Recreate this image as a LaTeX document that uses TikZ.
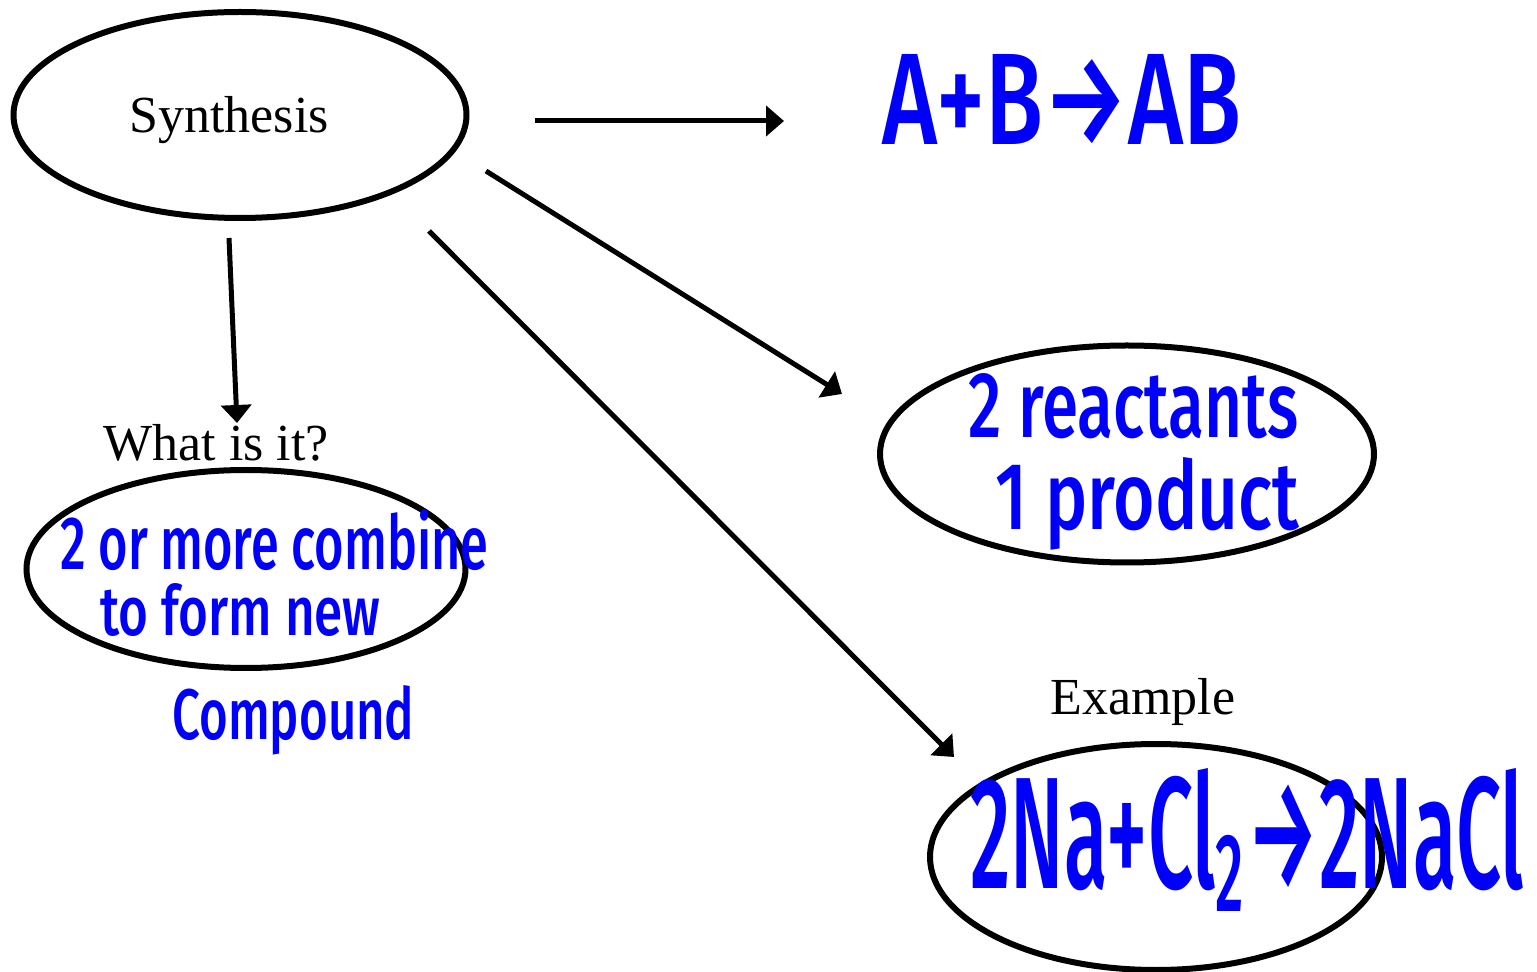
\documentclass[tikz,border=0pt]{standalone}
\usepackage{fontspec}
\setmainfont{Liberation Serif}
\newfontfamily\handfont{Fira Sans}[UprightFont={* Medium}]
\usetikzlibrary{shapes.geometric,arrows.meta}
% handwritten-style note, scaled to a given width and height
\newcommand{\hw}[3]{\resizebox{#1}{#2}{\handfont #3}}
\definecolor{ink}{RGB}{0,0,250}
\tikzset{
  bubble/.style={draw=black, line width=3pt, ellipse, inner sep=0pt},
  link/.style={draw=black, line width=2.5pt, -{Triangle[length=9pt,width=15pt]}},
  label/.style={font=\fontsize{26}{30}\selectfont, inner sep=0pt, anchor=base},
  hand/.style={text=ink, inner sep=0pt, anchor=base west}
}
\begin{document}
\begin{tikzpicture}[x=0.5pt, y=-0.5pt]
\useasboundingbox (0,0) rectangle (1537,972);

% ellipses
\node[bubble, minimum width=453pt/2, minimum height=206pt/2] (syn) at (240,115) {};
\node[bubble, minimum width=439pt/2, minimum height=198pt/2] (what) at (246,569) {};
\node[bubble, minimum width=494pt/2, minimum height=217pt/2] (react) at (1127,454) {};
\node[bubble, minimum width=452pt/2, minimum height=226pt/2] (ex) at (1156,857) {};

% printed labels
\node[label] (tsyn) at (229,133) {Synthesis};
\node[label] (twhat) at (216,461) {What is it?};
\node[label] (tex) at (1143,714) {Example};

% arrow end points
\coordinate (a1s) at (535,121);  \coordinate (a1e) at (784,121);
\coordinate (a2s) at (486,171);  \coordinate (a2e) at (842,394);
\coordinate (a3s) at (429,231);  \coordinate (a3e) at (954,757);
\coordinate (a4s) at (229,238);  \coordinate (a4e) at (237,423);

\draw[link] (a1s) -- (a1e);
\draw[link] (a2s) -- (a2e);
\draw[link] (a3s) -- (a3e);
\draw[link] (a4s) -- (a4e);

% handwritten notes
\node[hand] (n1) at (882,145) {\hw{179.5pt}{45pt}{A+B→AB}};
\node[hand] (n2) at (60,570) {\hw{214pt}{30pt}{2 or more combine}};
\node[hand] (n3) at (100,635) {\hw{140pt}{26pt}{to form new}};
\node[hand] (n4) at (172,740) {\hw{121pt}{27pt}{Compound}};
\node[hand] (n5) at (968,438) {\hw{165pt}{32pt}{2 reactants}};
\node[hand] (n6) at (995,530) {\hw{152pt}{36pt}{1 product}};
\node[hand] (n7) at (970,888) {\hw{277pt}{60pt}{2Na+Cl\textsubscript{2}→2NaCl}};
\end{tikzpicture}
\end{document}
